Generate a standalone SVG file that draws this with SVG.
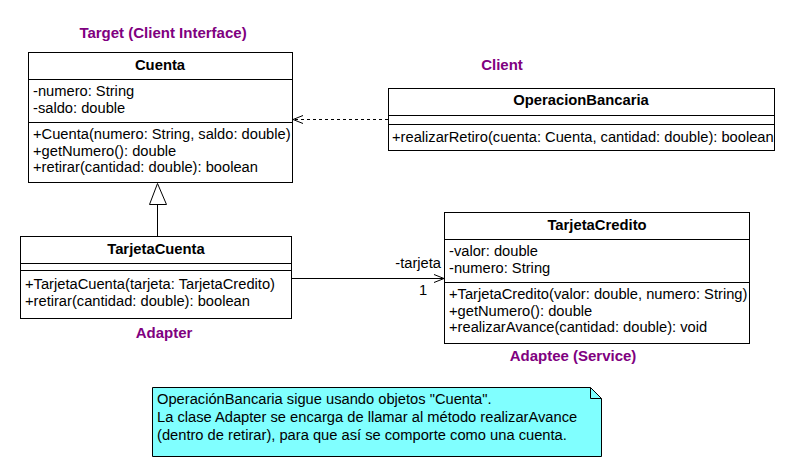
<svg xmlns="http://www.w3.org/2000/svg" width="795" height="476" viewBox="0 0 795 476">
<defs>
<style>
text{font-family:"Liberation Sans",Arial,sans-serif;font-size:14.7px;fill:#000}
.h{font-weight:bold;text-anchor:middle;font-size:14.8px}
.lbl{font-weight:bold;fill:#800080;font-size:15px;text-anchor:middle}
.box{fill:#fff;stroke:#000;stroke-width:1}
.ln{stroke:#000;stroke-width:1;fill:none}
</style>
<marker id="open" markerWidth="12" markerHeight="12" refX="11" refY="6" orient="auto" markerUnits="userSpaceOnUse">
<path d="M1,2 L11,6 L1,10" fill="none" stroke="#000" stroke-width="1"/>
</marker>
</defs>
<rect width="795" height="476" fill="#fff"/>
<g id="labels">
<text class="lbl" x="163" y="38">Target (Client Interface)</text>
<text class="lbl" x="502" y="70">Client</text>
<text class="lbl" x="164" y="338">Adapter</text>
<text class="lbl" x="573" y="361">Adaptee (Service)</text>
</g>
<g id="connectors">
<line class="ln" x1="388" y1="119.5" x2="293" y2="119.5" stroke-dasharray="3,3" marker-end="url(#open)"/>
<line class="ln" x1="157.5" y1="236.5" x2="157.5" y2="204.5"/>
<path class="ln" d="M149.5,204.5 L166.5,204.5 L157.5,183.5 Z" fill="#fff"/>
<line class="ln" x1="291" y1="278.5" x2="444" y2="278.5" marker-end="url(#open)"/>
<text x="441" y="268" text-anchor="end">-tarjeta</text>
<text x="423" y="295" text-anchor="middle">1</text>
</g>
<g id="Cuenta">
<rect class="box" x="28.5" y="52.5" width="264" height="130"/>
<line class="ln" x1="28.5" y1="79.5" x2="292.5" y2="79.5"/>
<line class="ln" x1="28.5" y1="122.5" x2="292.5" y2="122.5"/>
<text class="h" x="160" y="70">Cuenta</text>
<text x="33" y="96">-numero: String</text>
<text x="33" y="112.5">-saldo: double</text>
<text x="33" y="139">+Cuenta(numero: String, saldo: double)</text>
<text x="33" y="155.5">+getNumero(): double</text>
<text x="33" y="172">+retirar(cantidad: double): boolean</text>
</g>
<g id="OperacionBancaria">
<rect class="box" x="388.5" y="88.5" width="386" height="62"/>
<line class="ln" x1="388.5" y1="115.5" x2="774.5" y2="115.5"/>
<line class="ln" x1="388.5" y1="124.5" x2="774.5" y2="124.5"/>
<text class="h" x="581" y="105">OperacionBancaria</text>
<text x="392" y="142">+realizarRetiro(cuenta: Cuenta, cantidad: double): boolean</text>
</g>
<g id="TarjetaCuenta">
<rect class="box" x="20.5" y="236.5" width="271" height="82"/>
<line class="ln" x1="20.5" y1="263.5" x2="291.5" y2="263.5"/>
<line class="ln" x1="20.5" y1="270.5" x2="291.5" y2="270.5"/>
<text class="h" x="156" y="254">TarjetaCuenta</text>
<text x="25" y="289">+TarjetaCuenta(tarjeta: TarjetaCredito)</text>
<text x="25" y="305.5">+retirar(cantidad: double): boolean</text>
</g>
<g id="TarjetaCredito">
<rect class="box" x="444.5" y="212.5" width="305" height="131"/>
<line class="ln" x1="444.5" y1="239.5" x2="749.5" y2="239.5"/>
<line class="ln" x1="444.5" y1="282.5" x2="749.5" y2="282.5"/>
<text class="h" x="597" y="230">TarjetaCredito</text>
<text x="449" y="256">-valor: double</text>
<text x="449" y="272.5">-numero: String</text>
<text x="449" y="299">+TarjetaCredito(valor: double, numero: String)</text>
<text x="449" y="315.5">+getNumero(): double</text>
<text x="449" y="332">+realizarAvance(cantidad: double): void</text>
</g>
<g id="note">
<path d="M152.5,387.5 L590.5,387.5 L601.5,398.5 L601.5,456.5 L152.5,456.5 Z" fill="#80ffff" stroke="#000"/>
<path d="M590.5,387.5 L590.5,398.5 L601.5,398.5" fill="none" stroke="#000"/>
<text x="157" y="404">OperaciónBancaria sigue usando objetos "Cuenta".</text>
<text x="157" y="422">La clase Adapter se encarga de llamar al método realizarAvance</text>
<text x="157" y="440">(dentro de retirar), para que así se comporte como una cuenta.</text>
</g>
</svg>
